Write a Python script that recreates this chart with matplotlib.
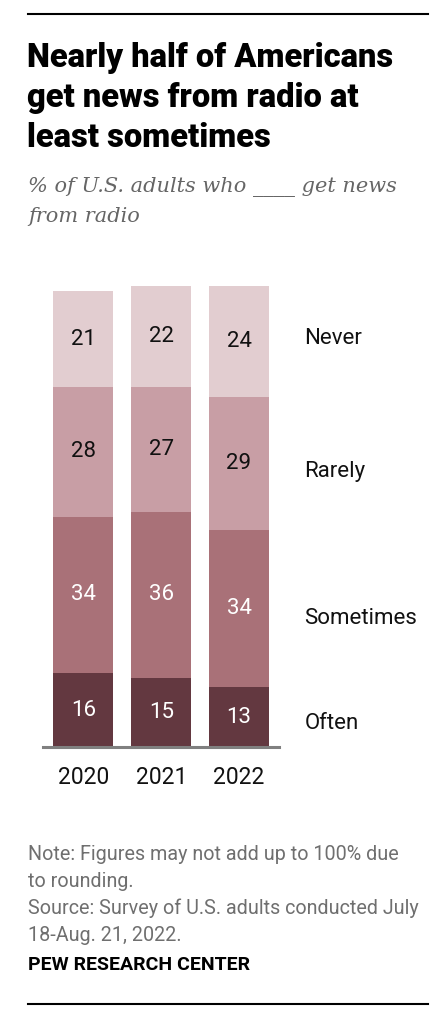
"""Pew-style stacked bars: how often U.S. adults get news from radio."""
import matplotlib.pyplot as plt
from matplotlib.lines import Line2D

YEARS = ["2020", "2021", "2022"]
CATEGORIES = ["Often", "Sometimes", "Rarely", "Never"]
OFTEN = [16, 15, 13]
SOMETIMES = [34, 36, 34]
RARELY = [28, 27, 29]
NEVER = [21, 22, 24]

COLORS = ["#633840", "#a97178", "#c89ea5", "#e2cdd0"]
TEXT_COLORS = ["white", "white", "#111111", "#111111"]
LABEL_Y = [5.2, 27.8, 59.7, 88.7]   # where the right-hand category labels sit

W, H = 445, 1017
FONT = "Roboto"
NOTE_GRAY = "#6f6f6f"


def fy(px):
    return 1 - px / H


def fx(px):
    return px / W


def main():
    fig = plt.figure(figsize=(W / 100, H / 100), dpi=100, facecolor="white")

    # rules top and bottom
    for y in (14, 1004):
        fig.add_artist(Line2D([fx(28), fx(428)], [fy(y), fy(y)], color="black",
                              linewidth=1.5, transform=fig.transFigure))

    title = ["Nearly half of Americans", "get news from radio at", "least sometimes"]
    for line, base in zip(title, [67, 107, 147]):
        fig.text(fx(27), fy(base), line, fontsize=23.5, fontweight="heavy",
                 family=FONT, color="black", va="baseline")

    subtitle = ["% of U.S. adults who ____ get news", "from radio"]
    for line, base in zip(subtitle, [192, 222]):
        fig.text(fx(28), fy(base), line, fontsize=15, style="italic",
                 family="DejaVu Serif", color="#666666", va="baseline")

    ax = fig.add_axes([fx(43), fy(747), (279 - 43) / W, 461 / H])
    x = list(range(len(YEARS)))
    series = [OFTEN, SOMETIMES, RARELY, NEVER]
    bottoms = [0] * len(YEARS)
    for vals, color, tcolor in zip(series, COLORS, TEXT_COLORS):
        ax.bar(x, vals, bottom=bottoms, width=0.772, color=color, linewidth=0)
        for xi, v, b in zip(x, vals, bottoms):
            ax.text(xi, b + v / 2, str(v), ha="center", va="center",
                    fontsize=16, family=FONT, color=tcolor)
        bottoms = [b + v for b, v in zip(bottoms, vals)]

    for cat, ly in zip(CATEGORIES, LABEL_Y):
        ax.text(2.84, ly, cat, ha="left", va="center", fontsize=16,
                family=FONT, color="#111111", clip_on=False)

    ax.axhline(0, color="#808080", linewidth=2.2, clip_on=False)
    ax.set_xlim(-0.52, 2.515)
    ax.set_ylim(0, 100)
    ax.set_xticks(x)
    ax.set_xticklabels(YEARS, fontsize=16.5, family=FONT, color="#111111")
    ax.tick_params(axis="x", length=0, pad=14)
    ax.set_yticks([])
    for spine in ax.spines.values():
        spine.set_visible(False)

    notes = ["Note: Figures may not add up to 100% due", "to rounding.",
             "Source: Survey of U.S. adults conducted July", "18-Aug. 21, 2022."]
    for line, base in zip(notes, [860, 887, 914, 941]):
        fig.text(fx(28), fy(base), line, fontsize=14.2, family=FONT,
                 color=NOTE_GRAY, va="baseline")
    fig.text(fx(28), fy(970), "PEW RESEARCH CENTER", fontsize=14,
             fontweight="bold", family=FONT, color="black", va="baseline")

    fig.savefig("out.png", dpi=100, facecolor="white")
    plt.close(fig)


if __name__ == "__main__":
    main()
